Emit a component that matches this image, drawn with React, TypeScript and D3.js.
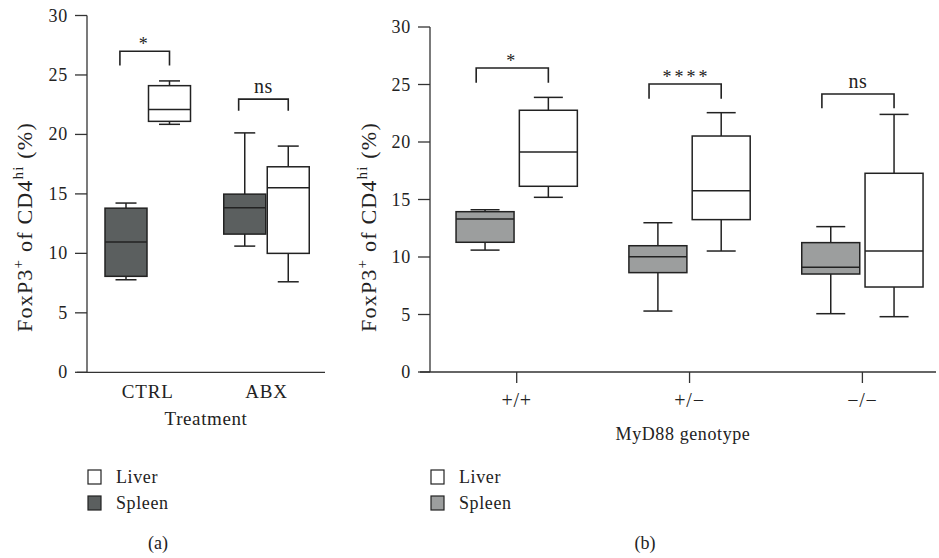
import React from "react";
import * as d3 from "d3";

// five-number summaries: [min, q1, median, q3, max]
// panel (a) - treatment
const treatments = ["CTRL", "ABX"];
const treatSpleen = [
  [7.78, 8.07, 10.95, 13.8, 14.23],
  [10.61, 11.62, 13.83, 14.98, 20.13],
];
const treatLiver = [
  [20.85, 21.1, 22.1, 24.1, 24.5],
  [7.61, 10.0, 15.51, 17.28, 19.02],
];
const treatSig = ["*", "ns"];
const treatBracket = [
  [27.0, 25.8],
  [22.97, 22.0],
];

// panel (b) - MyD88 genotype
const genotypes = ["+/+", "+/\u2212", "\u2212/\u2212"];
const genoSpleen = [
  [10.6, 11.28, 13.3, 13.94, 14.11],
  [5.3, 8.64, 10.03, 10.98, 12.98],
  [5.07, 8.52, 9.1, 11.25, 12.64],
];
const genoLiver = [
  [15.19, 16.15, 19.13, 22.76, 23.88],
  [10.52, 13.25, 15.77, 20.52, 22.55],
  [4.81, 7.39, 10.52, 17.28, 22.4],
];
const genoSig = ["*", "****", "ns"];
const genoBracket = [
  [26.43, 25.16],
  [25.04, 23.77],
  [24.17, 22.93],
];

const yTicks = [0, 5, 10, 15, 20, 25, 30];
const series = ["Spleen", "Liver"];

const FONT = "'Liberation Serif', 'Times New Roman', serif";
const INK = "#222";

function Box({ cx, w, s, y, fill }) {
  const [mn, q1, md, q3, mx] = s;
  const cap = w / 2;
  return (
    <g stroke={INK} strokeWidth={1.5}>
      <line x1={cx} x2={cx} y1={y(mx)} y2={y(q3)} />
      <line x1={cx} x2={cx} y1={y(q1)} y2={y(mn)} />
      <line x1={cx - cap / 2} x2={cx + cap / 2} y1={y(mx)} y2={y(mx)} />
      <line x1={cx - cap / 2} x2={cx + cap / 2} y1={y(mn)} y2={y(mn)} />
      <rect x={cx - w / 2} y={y(q3)} width={w} height={y(q1) - y(q3)} fill={fill} />
      <line x1={cx - w / 2} x2={cx + w / 2} y1={y(md)} y2={y(md)} />
    </g>
  );
}

function Panel(props) {
  const {
    groups, spleen, liver, sig, bracket, yRange, axisX, xEnd,
    groupRange, inner, boxW, spleenFill, xTicks, xTitle, xTitleY, xTitleSize,
    labelY, tag, tagX, legendX,
  } = props;
  const y = d3.scaleLinear().domain([0, 30]).range(yRange);
  const x = d3.scalePoint().domain(groups).range(groupRange);
  const sub = d3.scaleBand().domain(series).range([-inner, inner]);
  const bw = sub.bandwidth();
  const subC = (k) => sub(k) + bw / 2;
  const y0 = y(0);
  const midX = (axisX + xEnd) / 2;

  return (
    <g fontFamily={FONT} fill="#222">
      {/* y axis */}
      <line x1={axisX} x2={axisX} y1={y(30)} y2={y0} stroke="#333" strokeWidth={1.3} />
      {yTicks.map((t) => (
        <g key={t}>
          <line x1={axisX - 12} x2={axisX} y1={y(t)} y2={y(t)} stroke="#333" strokeWidth={1.3} />
          <text x={axisX - 19} y={y(t) + 6} textAnchor="end" fontSize={18} letterSpacing={0.8}>
            {t}
          </text>
        </g>
      ))}
      {/* x axis */}
      <line x1={axisX - 10} x2={xEnd} y1={y0} y2={y0} stroke="#333" strokeWidth={1.3} />
      {groups.map((g) => (
        <g key={g}>
          {xTicks && (
            <line x1={x(g)} x2={x(g)} y1={y0} y2={y0 + 11} stroke="#333" strokeWidth={1.3} />
          )}
          <text
            x={x(g)}
            y={xTicks ? 407 : 398}
            textAnchor="middle"
            fontSize={xTicks ? 20 : 19}
            letterSpacing={0.8}
          >
            {g}
          </text>
        </g>
      ))}
      <text x={midX} y={xTitleY} textAnchor="middle" fontSize={xTitleSize} letterSpacing={0.6}>
        {xTitle}
      </text>
      {/* y label */}
      <text
        transform={`translate(${labelY},227) rotate(-90)`}
        textAnchor="middle"
        fontSize={22}
        letterSpacing={1.2}
      >
        FoxP3<tspan dy={-9} fontSize={15}>+</tspan>
        <tspan dy={9}> of CD4</tspan>
        <tspan dy={-9} fontSize={15}>hi</tspan>
        <tspan dy={9}> (%)</tspan>
      </text>
      {/* boxes */}
      {groups.map((g, i) => (
        <g key={g}>
          <Box cx={x(g) + subC("Spleen")} w={boxW} s={spleen[i]} y={y} fill={spleenFill} />
          <Box cx={x(g) + subC("Liver")} w={boxW} s={liver[i]} y={y} fill="#fff" />
        </g>
      ))}
      {/* significance brackets */}
      {groups.map((g, i) => {
        const l = x(g) + subC("Spleen") - bw * 0.14;
        const r = x(g) + subC("Liver");
        const top = y(bracket[i][0]);
        const bot = y(bracket[i][1]);
        const isStar = sig[i] !== "ns";
        return (
          <g key={g}>
            <path
              d={`M${l},${bot}V${top}H${r}V${bot}`}
              fill="none"
              stroke={INK}
              strokeWidth={1.6}
            />
            <text
              x={(l + r) / 2 + (isStar && sig[i].length > 1 ? 1.5 : 0)}
              y={isStar ? top - 1 : top - 6}
              textAnchor="middle"
              fontSize={isStar ? 18 : 20}
              letterSpacing={isStar ? 3 : 0.5}
            >
              {sig[i]}
            </text>
          </g>
        );
      })}
      {/* legend */}
      <rect x={legendX} y={470} width={13} height={14} fill="#fff" stroke={INK} strokeWidth={1.2} />
      <text x={legendX + 28} y={483} fontSize={18} letterSpacing={0.6}>Liver</text>
      <rect x={legendX} y={496} width={13} height={14} fill={spleenFill} stroke={INK} strokeWidth={1.2} />
      <text x={legendX + 28} y={509} fontSize={18} letterSpacing={0.6}>Spleen</text>
      <text x={tagX} y={549} textAnchor="middle" fontSize={18}>
        {tag}
      </text>
    </g>
  );
}

export default function App() {
  return (
    <svg
      width={939}
      height={558}
      style={{ position: "absolute", left: 0, top: 0, background: "#fff" }}
    >
      <rect width={939} height={558} fill="#fff" />
      <Panel
        groups={treatments}
        spleen={treatSpleen}
        liver={treatLiver}
        sig={treatSig}
        bracket={treatBracket}
        yRange={[372.3, 15.5]}
        axisX={87}
        xEnd={325}
        groupRange={[147.75, 266.5]}
        inner={43.5}
        boxW={42}
        spleenFill="#5b5f5f"
        xTicks={false}
        xTitle="Treatment"
        xTitleY={425}
        xTitleSize={19}
        labelY={32}
        tag="(a)"
        tagX={158}
        legendX={88}
      />
      <Panel
        groups={genotypes}
        spleen={genoSpleen}
        liver={genoLiver}
        sig={genoSig}
        bracket={genoBracket}
        yRange={[372, 27]}
        axisX={430}
        xEnd={936}
        groupRange={[516.7, 862.4]}
        inner={63.3}
        boxW={58}
        spleenFill="#9c9e9e"
        xTicks={true}
        xTitle="MyD88 genotype"
        xTitleY={440}
        xTitleSize={18}
        labelY={376}
        tag="(b)"
        tagX={645}
        legendX={431}
      />
    </svg>
  );
}
